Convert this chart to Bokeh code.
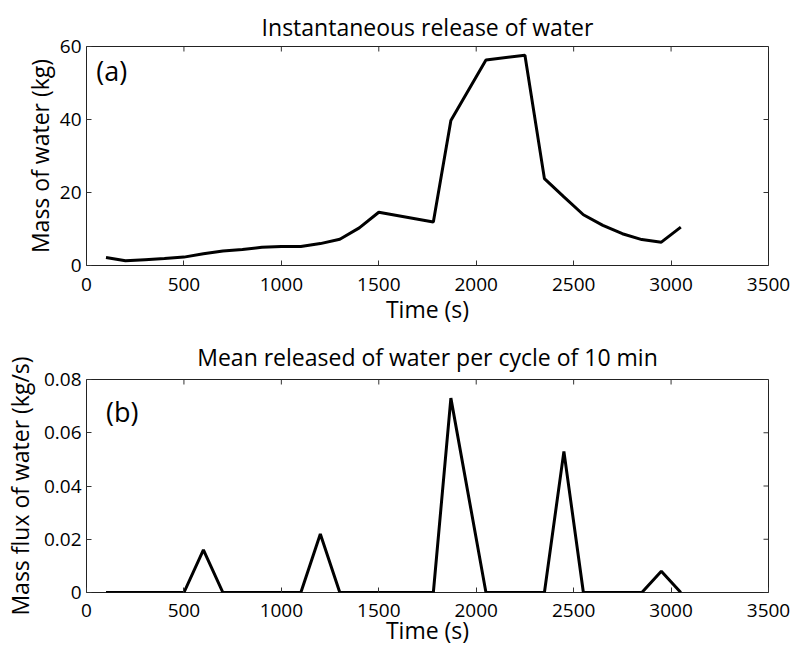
import math
from bokeh.plotting import figure
from bokeh.models import Range1d, FixedTicker, Label, ColumnDataSource
from bokeh.layouts import column
from bokeh.embed import file_html
from bokeh.resources import INLINE

# ---- data ----
time_s = [100, 200, 300, 400, 500, 600, 700, 800, 900, 1000, 1100, 1200, 1300, 1400, 1500,
          1780, 1870, 2050, 2250, 2350, 2450, 2550, 2650, 2750, 2850, 2950, 3050]
mass_kg = [2.2, 1.3, 1.6, 1.9, 2.3, 3.2, 4.0, 4.4, 5.0, 5.2, 5.2, 6.0, 7.2, 10.3, 14.6,
           11.9, 39.7, 56.3, 57.6, 23.8, 18.8, 13.9, 11.0, 8.7, 7.1, 6.4, 10.5]
flux_kgs = [0, 0, 0, 0, 0, 0.016, 0, 0, 0, 0, 0, 0.022, 0, 0, 0,
            0, 0.073, 0, 0, 0, 0.053, 0, 0, 0, 0, 0.008, 0]

x_ticks = [0, 500, 1000, 1500, 2000, 2500, 3000, 3500]
y_ticks_a = [0, 20, 40, 60]
y_ticks_b = [0, 0.02, 0.04, 0.06, 0.08]

title_a = "Instantaneous release of water"
title_b = "Mean released of water per cycle of 10 min"
xlabel = "Time (s)"
ylabel_a = "Mass of water (kg)"
ylabel_b = "Mass flux of water (kg/s)"

FONT = "Open Sans"
TICK_COLOR = "#333333"


def style_axis(ax, ticks):
    ax.ticker = FixedTicker(ticks=ticks)
    ax.major_tick_in = 5
    ax.major_tick_out = 0
    ax.minor_tick_in = 0
    ax.minor_tick_out = 0
    ax.major_tick_line_color = TICK_COLOR
    ax.axis_line_color = None
    ax.major_label_text_font = FONT
    ax.major_label_text_font_size = "19px"
    ax.major_label_text_color = "black"
    ax.axis_label_text_font = FONT
    ax.axis_label_text_font_size = "23px"
    ax.axis_label_text_font_style = "normal"
    ax.axis_label_text_color = "black"


def make_fig(title, yr, yticks, ylabel, ydata, label_txt, lx, ly, height, top, bottom,
             title_standoff, x_std, x_lab_std, y_lab_std, overrides=None):
    p = figure(width=792, height=height, output_backend="svg", toolbar_location=None,
               x_range=Range1d(0, 3500), y_range=Range1d(*yr),
               min_border_left=79, min_border_right=24,
               min_border_top=top, min_border_bottom=bottom)
    p.grid.visible = False
    p.outline_line_color = "#222222"
    p.outline_line_width = 1
    p.title.text = title
    p.title.align = "center"
    p.title.text_font = FONT
    p.title.text_font_size = "23px"
    p.title.text_font_style = "normal"
    p.title.text_color = "black"
    p.title.standoff = title_standoff

    xa = p.xaxis[0]
    style_axis(xa, x_ticks)
    xa.axis_label = xlabel
    xa.major_label_standoff = x_std
    xa.axis_label_standoff = x_lab_std
    ya = p.yaxis[0]
    style_axis(ya, yticks)
    ya.axis_label = ylabel
    ya.major_label_standoff = 5
    ya.axis_label_standoff = y_lab_std
    if overrides:
        ya.major_label_overrides = overrides

    # mirrored inward ticks on the top and right edges of the box
    p.ray(x=x_ticks, y=[yr[1]] * len(x_ticks), length=5, length_units="screen",
          angle=-math.pi / 2, line_color=TICK_COLOR, line_width=1)
    p.ray(x=[3500] * len(yticks), y=yticks, length=5, length_units="screen",
          angle=math.pi, line_color=TICK_COLOR, line_width=1)

    src = ColumnDataSource(dict(t=time_s, v=ydata))
    p.line("t", "v", source=src, line_color="black", line_width=3)

    p.add_layout(Label(x=lx, y=ly, text=label_txt, text_font=FONT, text_font_size="27px",
                       text_baseline="middle", text_color="black"))
    return p


pa = make_fig(title_a, (0, 60), y_ticks_a, ylabel_a, mass_kg, "(a)", 50, 53.4,
              height=330, top=46, bottom=65, title_standoff=7,
              x_std=12, x_lab_std=-1, y_lab_std=1)
pb = make_fig(title_b, (0, 0.08), y_ticks_b, ylabel_b, flux_kgs, "(b)", 100, 0.068,
              height=318, top=49, bottom=52, title_standoff=13,
              x_std=11, x_lab_std=-6, y_lab_std=5, overrides={0: "0"})

layout = column(pa, pb, spacing=0)
open("out.html", "w").write(file_html(layout, INLINE))
